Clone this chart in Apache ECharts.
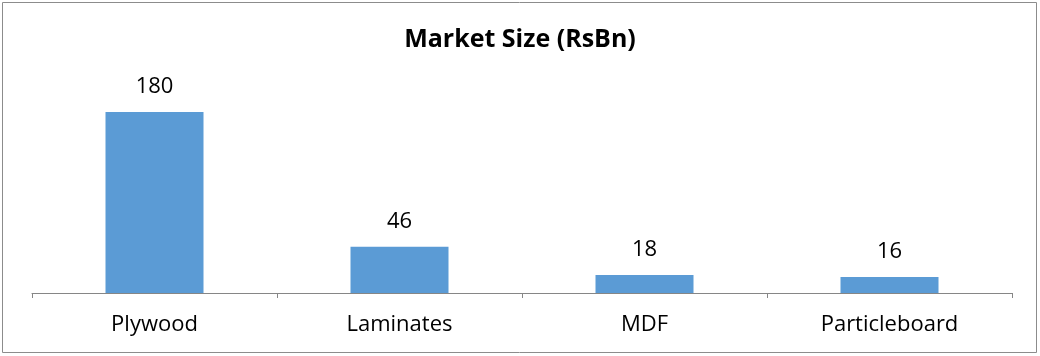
<!DOCTYPE html>
<html><head><meta charset="utf-8">
<script src="https://cdn.jsdelivr.net/npm/echarts@6/dist/echarts.min.js"></script>
<style>html,body{margin:0;padding:0;background:#fff}#c{width:1040px;height:356px}</style>
</head><body><div id="c"></div>
<script>
const categories = ["Plywood", "Laminates", "MDF", "Particleboard"];
const marketSize = [180, 46, 18, 16];
const titleText = "Market Size (RsBn)";

const chart = echarts.init(document.getElementById('c'));
chart.setOption({
  animation: false,
  backgroundColor: '#fff',
  textStyle: { fontFamily: 'Open Sans' },
  title: {
    text: titleText, left: 'center', top: 22,
    textStyle: { fontFamily: 'Open Sans', fontWeight: 'bold', fontSize: 25, color: '#000' }
  },
  graphic: [{
    type: 'rect', shape: { x: 2.5, y: 2.5, width: 1034, height: 350 },
    style: { fill: 'none', stroke: '#8c8c8c', lineWidth: 1 }, silent: true
  }],
  grid: { left: 32, right: 28, top: 92, bottom: 63 },
  xAxis: {
    type: 'category', data: categories,
    axisLine: { lineStyle: { color: '#868686', width: 1 } },
    axisTick: { show: true, length: 5, alignWithLabel: false, lineStyle: { color: '#868686' } },
    axisLabel: { color: '#000', fontSize: 22, margin: 21, fontFamily: 'Open Sans' }
  },
  yAxis: {
    type: 'value', min: 0, max: 200, show: false, splitLine: { show: false }
  },
  series: [{
    type: 'bar', data: marketSize, barWidth: '40%',
    itemStyle: { color: '#5B9BD5' },
    label: { show: true, position: 'top', distance: 14, color: '#000', fontSize: 22, fontFamily: 'Open Sans' }
  }]
});
</script></body></html>
